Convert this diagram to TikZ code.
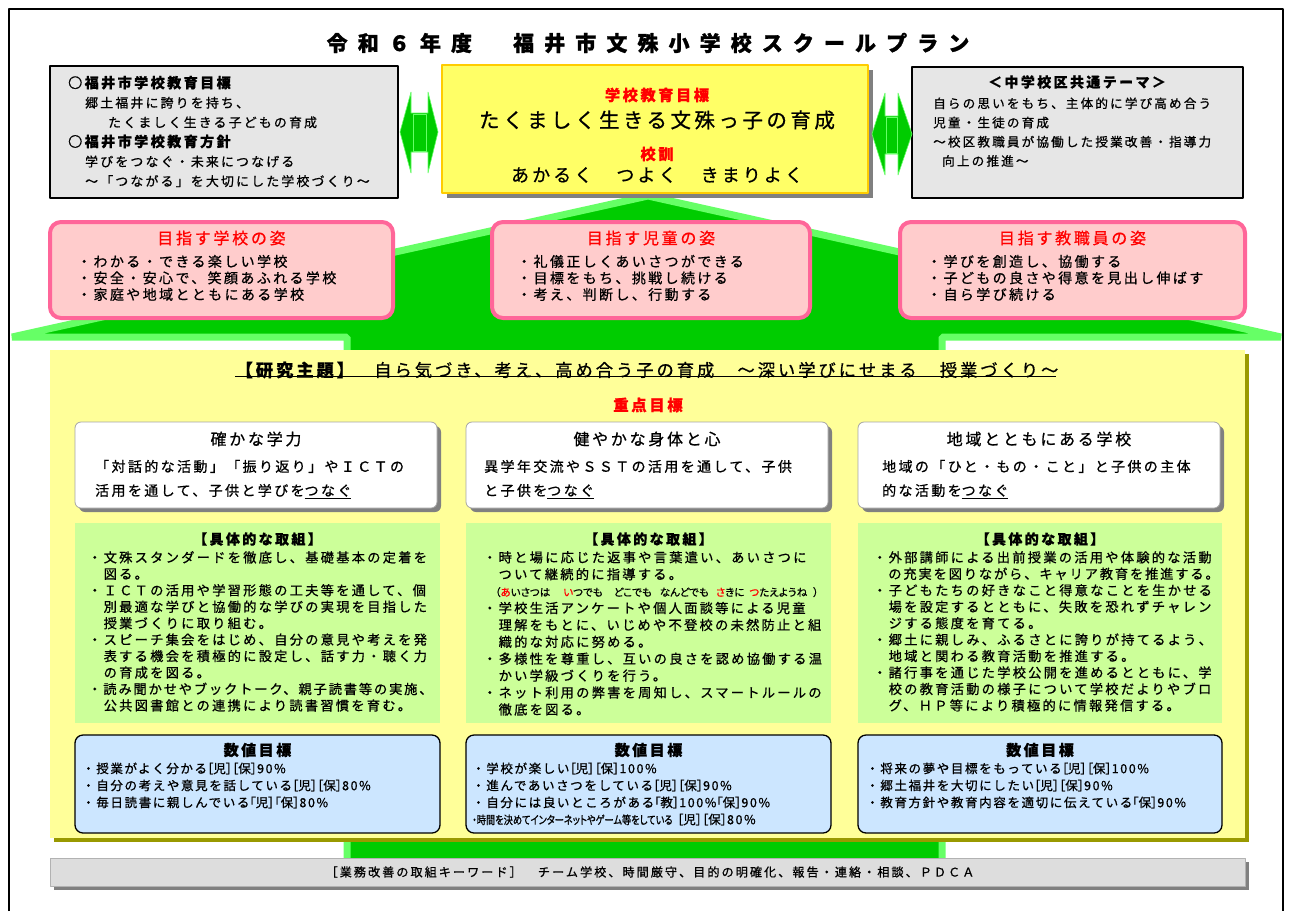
\documentclass[tikz,border=0pt]{standalone}
\usepackage{fontspec}
\usepackage{graphicx}
\setmainfont{Noto Sans CJK JP}
\newfontfamily\jpA{Noto Sans CJK JP}[LetterSpace=17,FakeBold=0.8]
\newfontfamily\jpB{Noto Sans CJK JP}[LetterSpace=14,FakeBold=0.8]
\newfontfamily\jpC{Noto Sans CJK JP}[LetterSpace=13,FakeBold=0.8]
\newfontfamily\jpT{Noto Sans CJK JP}[LetterSpace=48,FakeBold=1.2]
\newfontfamily\jpN{Noto Sans CJK JP}[RawFeature=+palt,FakeBold=0.8]
\newcommand\setfs[2]{\fontsize{#1}{#2}\selectfont}
\newcommand\lbk{{\jpN［}}
\newcommand\rbk{{\jpN］}}
\newcommand\lck{{\jpN「}}
\definecolor{roofdark}{HTML}{00CC00}
\definecolor{rooflight}{HTML}{66FF66}
\definecolor{boxgray}{HTML}{E6E6E6}
\definecolor{shadowgray}{HTML}{808080}
\definecolor{goalyellow}{HTML}{FFFF66}
\definecolor{goalline}{HTML}{FFCC00}
\definecolor{pinkfill}{HTML}{FFCCCC}
\definecolor{pinkline}{HTML}{FF6699}
\definecolor{panelyellow}{HTML}{FFFF99}
\definecolor{panelolive}{HTML}{999900}
\definecolor{actgreen}{HTML}{CCFF99}
\definecolor{numblue}{HTML}{CCE6FF}
\definecolor{bargray}{HTML}{DDDDDD}
\definecolor{redtext}{HTML}{FF0000}

\begin{document}
\begin{tikzpicture}[x=1pt,y=-1pt,line join=bevel,
  every node/.style={inner sep=0pt},
  graybox/.style={draw=black,line width=1.5pt,fill=boxgray},
  goalbox/.style={draw=goalline,line width=2.5pt,fill=goalyellow},
  pinkbox/.style={draw=pinkline,line width=4pt,fill=pinkfill,rounded corners=11pt},
  whitebox/.style={draw=gray!70,line width=0.8pt,fill=white,rounded corners=6pt},
  actbox/.style={fill=actgreen,draw=none},
  numbox/.style={draw=black,line width=1.3pt,fill=numblue,rounded corners=8pt},
  dblarrow/.style={fill=roofdark,draw=rooflight,line width=0.6pt},
  redhead/.style={text=redtext,font=\jpA\bfseries\setfs{15.2}{18}},
  pinkhead/.style={text=redtext,font=\jpA\setfs{16}{18}},
  body/.style={anchor=north west,align=left},
]
\useasboundingbox (0,0) rectangle (1292,911);
\fill[white] (0,0) rectangle (1292,911);
%% frame and title
\draw[line width=1.6pt] (9,911) -- (9,9) -- (1283,9) -- (1283,911);
\node (title) at (648,43) [font=\jpT\bfseries\setfs{21}{24}] {令和６年度　福井市文殊小学校スクールプラン};
%% roof and trunk
\draw[fill=roofdark,draw=rooflight,line width=7pt] (12,337) -- (648,196) -- (1281,337) -- (942,337) -- (942,872) -- (347,872) -- (347,337) -- cycle;
%% upper row
\node (cityBox) at (224,132) [graybox,minimum width=348pt,minimum height=132pt] {};
\node (cityText) at (68,75.7) [body,font=\jpA\setfs{12.9}{19.6}] {{\bfseries\setfs{14.1}{19.6}○福井市学校教育目標}\\
\hspace*{17pt}郷土福井に誇りを持ち、\\
\hspace*{40pt}たくましく生きる子どもの育成\\
{\bfseries\setfs{14.1}{19.6}○福井市学校教育方針}\\
\hspace*{17pt}学びをつなぐ・未来につなげる\\
\hspace*{17pt}～「つながる」を大切にした学校づくり～};
\node (areaBox) at (1077.5,132.5) [graybox,minimum width=331pt,minimum height=131pt] {};
\node (areaHead) at (1077,82) [font=\jpA\bfseries\setfs{14}{18}] {＜中学校区共通テーマ＞};
\node (areaText) at (933,97.3) [body,font=\jpA\setfs{12.6}{19.2}] {自らの思いをもち、主体的に学び高め合う\\
児童・生徒の育成\\
～校区教職員が協働した授業改善・指導力\\
\hspace*{9pt}向上の推進～};
\fill[shadowgray] (447,70) rectangle (873,198);
\node (goalBox) at (655,129) [goalbox,minimum width=426pt,minimum height=128pt] {};
\node (goalHead) at (657,95) [redhead] {学校教育目標};
\node (goalMain) at (657,120) [font=\jpA\setfs{20.5}{24}] {たくましく生きる文殊っ子の育成};
\node (mottoHead) at (657,154) [redhead] {校訓};
\node (motto) at (657,175) [font=\jpA\setfs{18}{22}] {あかるく　つよく　きまりよく};
%% double arrows
\filldraw[dblarrow] (400,132) -- (411,92) -- (411,113) -- (428,113) -- (428,92) -- (438,132) -- (428,173) -- (428,152) -- (411,152) -- (411,173) -- cycle;
\draw[rooflight,line width=0.6pt] (413,114) rectangle (426,151);
\filldraw[dblarrow] (872,134) -- (885,93) -- (885,116) -- (898,116) -- (898,93) -- (912,134) -- (898,175) -- (898,154) -- (885,154) -- (885,175) -- cycle;
\draw[rooflight,line width=0.6pt] (886,117) rectangle (897,153);
%% three pink boxes
\node (pinkSchool) at (221.5,270) [pinkbox,minimum width=343pt,minimum height=96pt] {};
\node (pinkSchoolHead) at (221.5,238) [pinkhead] {目指す学校の姿};
\node (pinkSchoolText) at (77,254.7) [body,font=\jpA\setfs{14}{16.5}] {・わかる・できる楽しい学校\\
・安全・安心で、笑顔あふれる学校\\
・家庭や地域とともにある学校};
\node (pinkChild) at (651,270) [pinkbox,minimum width=318pt,minimum height=96pt] {};
\node (pinkChildHead) at (651,238) [pinkhead] {目指す児童の姿};
\node (pinkChildText) at (517,254.7) [body,font=\jpA\setfs{14}{16.5}] {・礼儀正しくあいさつができる\\
・目標をもち、挑戦し続ける\\
・考え、判断し、行動する};
\node (pinkStaff) at (1072.5,270) [pinkbox,minimum width=345pt,minimum height=96pt] {};
\node (pinkStaffHead) at (1072.5,238) [pinkhead] {目指す教職員の姿};
\node (pinkStaffText) at (927,254.7) [body,font=\jpA\setfs{14}{16.5}] {・学びを創造し、協働する\\
・子どもの良さや得意を見出し伸ばす\\
・自ら学び続ける};
%% research panel
\fill[panelolive] (54,354) rectangle (1249,842);
\fill[panelyellow] (50,350) rectangle (1245,838);
\node (theme) at (647,370) [font=\jpA\setfs{17.3}{20}] {{\bfseries【研究主題】}　自ら気づき、考え、高め合う子の育成　～深い学びにせまる　授業づくり～};
\draw[line width=1.2pt] ([yshift=2pt]theme.south west) -- ([yshift=2pt,xshift=-3pt]theme.south east);
\node (focus) at (648,405) [font=\jpA\bfseries\setfs{15.4}{18},text=redtext] {重点目標};
%% white goal boxes
\fill[shadowgray,rounded corners=6pt] (79,426) rectangle (441,512);
\node (studyBox) at (256,465) [whitebox,minimum width=362pt,minimum height=86pt] {};
\node (studyHead) at (256,439) [font=\jpA\setfs{16}{18}] {確かな学力};
\node (studyText) at (95,459.7) [body,font=\jpA\setfs{14}{24}] {「対話的な活動」「振り返り」やＩＣＴの\\
活用を通して、子供と学びを\underline{つなぐ}};
\fill[shadowgray,rounded corners=6pt] (470,426) rectangle (832,512);
\node (healthBox) at (647,465) [whitebox,minimum width=362pt,minimum height=86pt] {};
\node (healthHead) at (647,439) [font=\jpA\setfs{16}{18}] {健やかな身体と心};
\node (healthText) at (484,459.7) [body,font=\jpA\setfs{14}{24}] {異学年交流やＳＳＴの活用を通して、子供\\
と子供を\underline{つなぐ}};
\fill[shadowgray,rounded corners=6pt] (862,426) rectangle (1224,512);
\node (localBox) at (1039,465) [whitebox,minimum width=362pt,minimum height=86pt] {};
\node (localHead) at (1039,439) [font=\jpA\setfs{16}{18}] {地域とともにある学校};
\node (localText) at (882,459.7) [body,font=\jpA\setfs{14}{24}] {地域の「ひと・もの・こと」と子供の主体\\
的な活動を\underline{つなぐ}};
%% green action boxes
\node (studyAct) at (257.5,623) [actbox,minimum width=365pt,minimum height=200pt] {};
\node (studyActHead) at (257.5,539) [font=\jpA\bfseries\setfs{14}{18}] {【具体的な取組】};
\node (studyActText) at (88,551) [body,font=\jpA\setfs{13.25}{16.45}] {・文殊スタンダードを徹底し、基礎基本の定着を\\
　図る。\\
・ＩＣＴの活用や学習形態の工夫等を通して、個\\
　別最適な学びと協働的な学びの実現を目指した\\
　授業づくりに取り組む。\\
・スピーチ集会をはじめ、自分の意見や考えを発\\
　表する機会を積極的に設定し、話す力・聴く力\\
　の育成を図る。\\
{\jpB ・読み聞かせやブックトーク、親子読書等の実施、}\\
　公共図書館との連携により読書習慣を育む。};
\node (healthAct) at (648.5,623) [actbox,minimum width=365pt,minimum height=200pt] {};
\node (healthActHead) at (648.5,539) [font=\jpA\bfseries\setfs{14}{18}] {【具体的な取組】};
\node (healthActText) at (483,551) [body,font=\jpA\setfs{13.25}{16.9}] {・時と場に応じた返事や言葉遣い、あいさつに\\
　ついて継続的に指導する。\\
\hspace*{12pt}{\jpN\setfs{10.5}{16.9}（{\color{redtext}あ}いさつは\hspace{13pt}{\color{redtext}い}つでも\hspace{11pt}どこでも\hspace{8pt}なんどでも\hspace{7pt}{\color{redtext}さ}きに\hspace{5pt}{\color{redtext}つ}たえようね\hspace{6pt}）}\\
・学校生活アンケートや個人面談等による児童\\
　理解をもとに、いじめや不登校の未然防止と組\\
　織的な対応に努める。\\
・多様性を尊重し、互いの良さを認め協働する温\\
　かい学級づくりを行う。\\
・ネット利用の弊害を周知し、スマートルールの\\
　徹底を図る。};
\node (localAct) at (1040,623) [actbox,minimum width=364pt,minimum height=200pt] {};
\node (localActHead) at (1040,539) [font=\jpA\bfseries\setfs{14}{18}] {【具体的な取組】};
\node (localActText) at (873,551) [body,font=\jpA\setfs{13.25}{16.45}] {・外部講師による出前授業の活用や体験的な活動\\
{\jpB 　の充実を図りながら、キャリア教育を推進する。}\\
・子どもたちの好きなこと得意なことを生かせる\\
　場を設定するとともに、失敗を恐れずチャレン\\
　ジする態度を育てる。\\
・郷土に親しみ、ふるさとに誇りが持てるよう、\\
　地域と関わる教育活動を推進する。\\
・諸行事を通じた学校公開を進めるとともに、学\\
　校の教育活動の様子について学校だよりやブロ\\
　グ、ＨＰ等により積極的に情報発信する。};
%% blue number boxes
\node (studyNum) at (257.5,784) [numbox,minimum width=365pt,minimum height=98pt] {};
\node (studyNumHead) at (257.5,750) [font=\jpA\bfseries\setfs{15}{18}] {数値目標};
\node (studyNumText) at (82,762.4) [body,font=\jpC\setfs{12.5}{17}] {・授業がよく分かる\lbk 児\rbk\lbk 保\rbk 90\%\\
・自分の考えや意見を話している\lbk 児\rbk\lbk 保\rbk 80\%\\
・毎日読書に親しんでいる\lck 児\rbk\lck 保\rbk 80\%};
\node (healthNum) at (648.5,784) [numbox,minimum width=365pt,minimum height=98pt] {};
\node (healthNumHead) at (648.5,750) [font=\jpA\bfseries\setfs{15}{18}] {数値目標};
\node (healthNumText) at (472,762.4) [body,font=\jpC\setfs{12.5}{17}] {・学校が楽しい\lbk 児\rbk\lbk 保\rbk 100\%\\
・進んであいさつをしている\lbk 児\rbk\lbk 保\rbk 90\%\\
・自分には良いところがある\lck 教\rbk 100\%\lck 保\rbk 90\%\\
\scalebox{0.8}[1]{\jpN\setfs{11.5}{17}・時間を決めてインターネットやゲーム等をしている}\ \lbk 児\rbk\lbk 保\rbk 80\%};
\node (localNum) at (1040,784) [numbox,minimum width=364pt,minimum height=98pt] {};
\node (localNumHead) at (1040,750) [font=\jpA\bfseries\setfs{15}{18}] {数値目標};
\node (localNumText) at (866,762.4) [body,font=\jpC\setfs{12.5}{17}] {・将来の夢や目標をもっている\lbk 児\rbk\lbk 保\rbk 100\%\\
・郷土福井を大切にしたい\lbk 児\rbk\lbk 保\rbk 90\%\\
・教育方針や教育内容を適切に伝えている\lck 保\rbk 90\%};
%% keyword bar
\fill[shadowgray] (54,862) rectangle (1249,890);
\node (keyBar) at (647.5,872) [fill=bargray,draw=gray!60,line width=0.5pt,minimum width=1195pt,minimum height=28pt] {};
\node (keyText) at (650,872) [font=\jpA\setfs{12.1}{14}] {［業務改善の取組キーワード］　チーム学校、時間厳守、目的の明確化、報告・連絡・相談、ＰＤＣＡ};
\end{tikzpicture}
\end{document}
